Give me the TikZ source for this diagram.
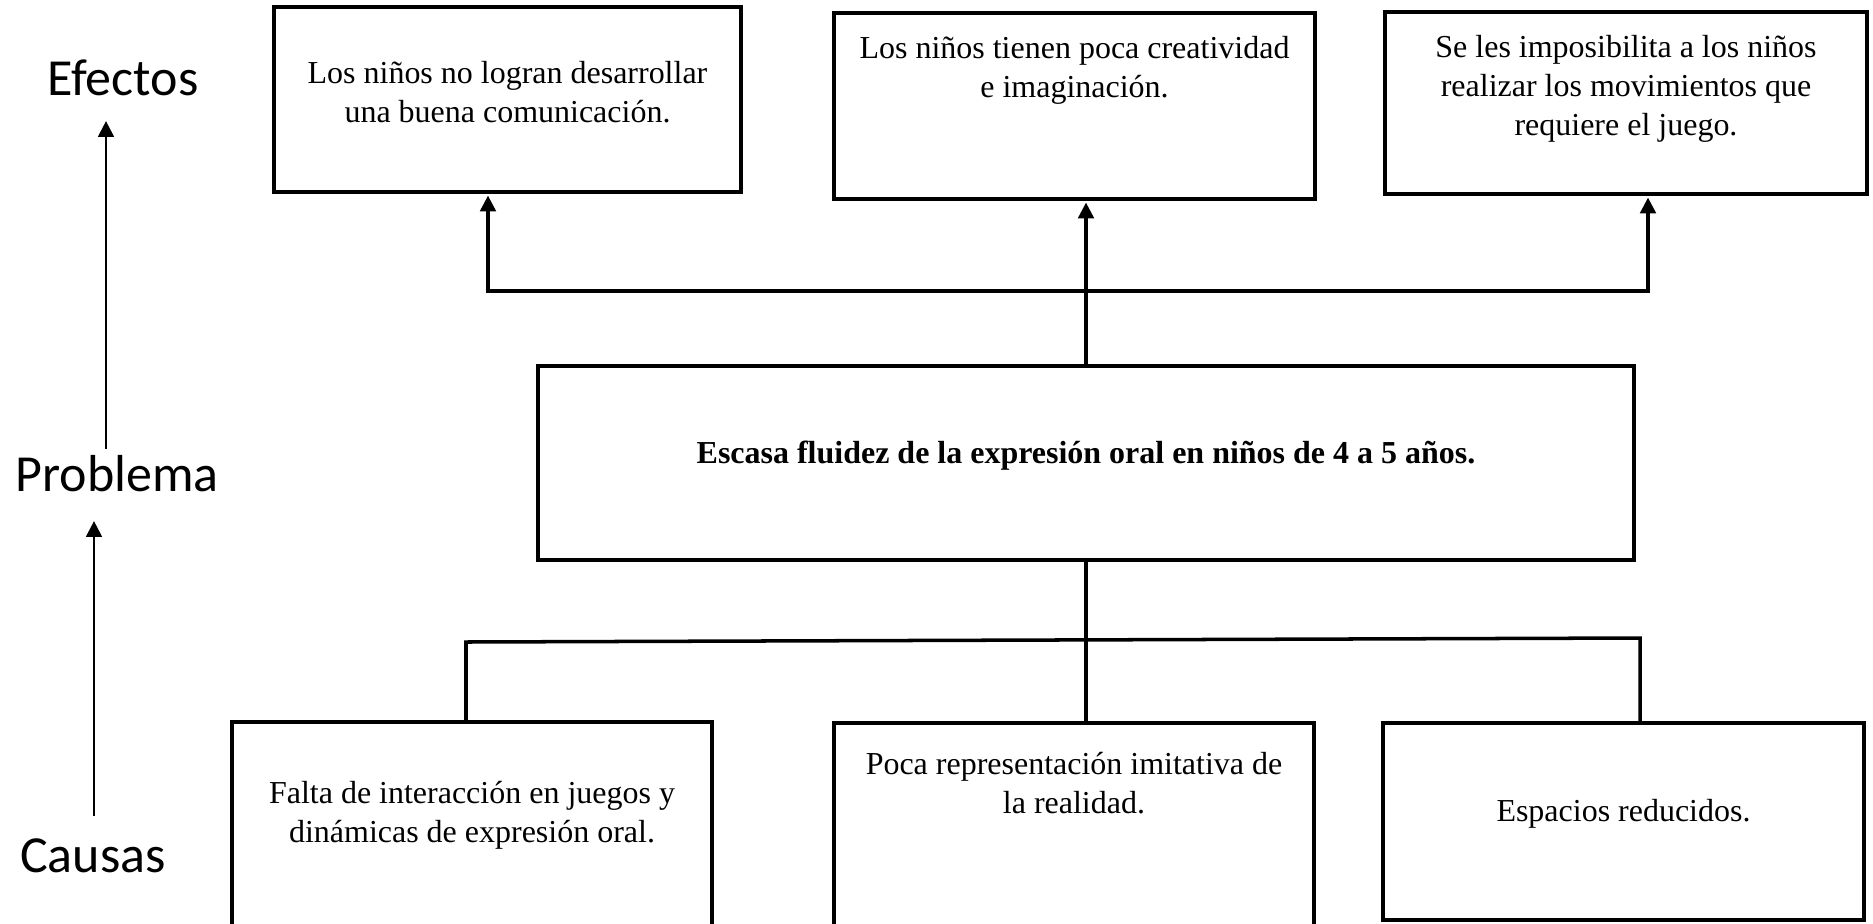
\documentclass[tikz,border=0pt]{standalone}
\usepackage{fontspec}
\setmainfont{Liberation Serif}
\newfontfamily\sidefont{Carlito}
\usepackage{tikz}
\usetikzlibrary{arrows.meta}
\usetikzlibrary{positioning}
\tikzset{box/.style={draw=black, line width=1pt, inner sep=0pt, outer sep=0pt},
    txt/.style={align=center, inner sep=0pt, font=\fontsize{9.1pt}{11pt}\selectfont},
    side/.style={inner sep=0pt, anchor=base, font=\sidefont\fontsize{14.8pt}{17pt}\selectfont},
    conn/.style={line width=1pt, line cap=rect},
    arr/.style={conn, -{Triangle[length=4.5pt,width=4.4pt]}, shorten >=1pt},
    sidearr/.style={line width=0.85pt, -{Triangle[length=4.5pt,width=4.4pt]}}}

\begin{document}
\begin{tikzpicture}

    \useasboundingbox (0,0) rectangle (18.73,-9.23);
    \clip (0,0) rectangle (18.73,-9.23);

    % efectos
    \node[box, minimum width=4.67cm, minimum height=1.85cm] (E1) at (5.075,-0.995) {};
    \node[box, minimum width=4.81cm, minimum height=1.86cm] (E2) at (10.745,-1.06) {};
    \node[box, minimum width=4.82cm, minimum height=1.82cm] (E3) at (16.26,-1.03) {};
    \node[txt, below=5.4mm of E1.north] (E1t) {Los niños no logran desarrollar\\una buena comunicación.};
    \node[txt, below=2.3mm of E2.north] (E2t) {Los niños tienen poca creatividad\\e imaginación.};
    \node[txt, below=2.3mm of E3.north] (E3t) {Se les imposibilita a los niños\\realizar los movimientos que\\requiere el juego.};

    % problema
    \node[box, minimum width=10.96cm, minimum height=1.94cm] (P) at (10.86,-4.63) {};
    \node[txt, below=7.4mm of P.north] (Pt) {\textbf{Escasa fluidez de la expresión oral en niños de 4 a 5 años.}};

    % causas
    \node[box, minimum width=4.80cm, minimum height=2.40cm] (C1) at (4.72,-8.42) {};
    \node[box, minimum width=4.80cm, minimum height=2.40cm] (C2) at (10.74,-8.43) {};
    \node[box, minimum width=4.81cm, minimum height=1.97cm] (C3) at (16.235,-8.215) {};
    \node[txt, below=5.9mm of C1.north] (C1t) {Falta de interacción en juegos y\\dinámicas de expresión oral.};
    \node[txt, below=2.9mm of C2.north] (C2t) {Poca representación imitativa de\\la realidad.};
    \node[txt, below=7.6mm of C3.north] (C3t) {Espacios reducidos.};

    % etiquetas
    \node[side] (Ef) at (1.23,-0.95) {Efectos};
    \node[side] (Pr) at (1.17,-4.91) {Problema};
    \node[side] (Ca) at (0.93,-8.72) {Causas};
    \coordinate (s1) at (1.06,-4.49);
    \coordinate (s2) at (0.94,-8.16);
    \draw[sidearr] (s1) -- (s1 |- 0,-1.21);
    \draw[sidearr] (s2) -- (s2 |- 0,-5.21);

    % conectores
    \coordinate (j1) at (4.88,-2.91);
    \coordinate (j3) at (16.48,-2.91);
    \coordinate (k1) at (4.66,-6.42);
    \coordinate (k3) at (16.40,-6.38);
    \draw[arr] (j1) -- (j1 |- E1.south);
    \draw[arr] (j1) -- (j3) -- (j3 |- E3.south);
    \draw[arr] (P.north) -- (P.north |- E2.south);
    \draw[conn] (P.south) -- (P.south |- C2.north);
    \draw[conn] (k1 |- C1.north) -- (k1) -- (k3) -- (k3 |- C3.north);

\end{tikzpicture}
\end{document}
